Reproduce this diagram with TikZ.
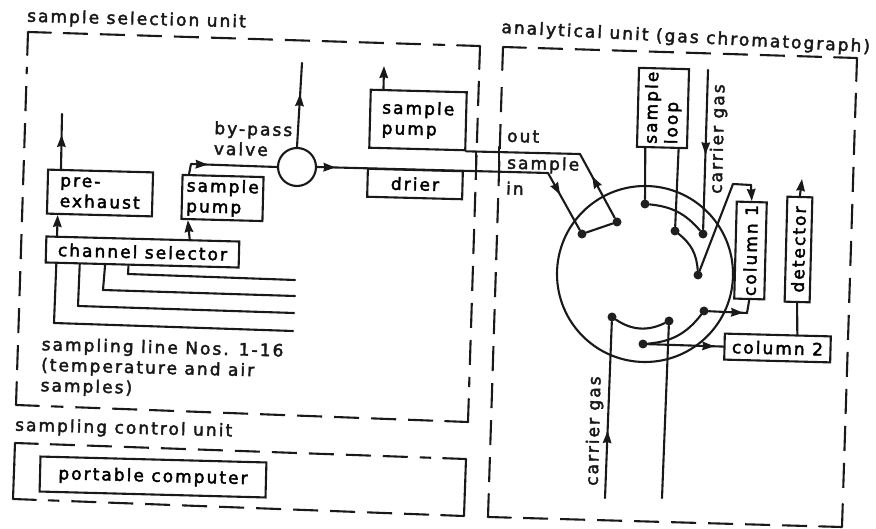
\documentclass[tikz,border=0pt]{standalone}
\usepackage{fontspec}
\setmainfont{DejaVu Sans}
\newfontfamily\labfont{DejaVu Sans}[FakeBold=2.4,LetterSpace=12]
\usetikzlibrary{arrows.meta,calc,decorations.markings}
\tikzset{
  ln/.style={line width=2.1pt,line cap=round,line join=round,black!90},
  boxn/.style={draw=black!90,line width=2.1pt,inner sep=0pt,rotate=-1.5,font=\lab,align=left},
  vbox/.style={draw=black!90,line width=2.1pt,inner sep=0pt,rotate=88.5,font=\lab,align=left},
  txt/.style={font=\lab,inner sep=0pt,anchor=west,rotate=-1.5,align=left,black!90},
  vtxt/.style={font=\lab,inner sep=0pt,anchor=west,rotate=88.5,black!90},
  port/.style={circle,fill=black!88,inner sep=0pt,minimum size=9pt},
  tip/.style={-{Stealth[length=12pt,width=8.5pt,inset=1pt]}},
  along/.style={postaction={decorate},decoration={markings,mark=at position #1 with {\arrow{Stealth[length=12pt,width=8.5pt,inset=1pt]}}}},
  dashside/.style={line width=2.1pt,line cap=butt,black!90,dash pattern=on 25pt off 12pt},
}
\newcommand\lab{\labfont\fontsize{17}{20.5}\selectfont}
\newcommand\unitframe[4]{%
  \draw[ln] ($(#1)!23pt!(#2)$) -- (#1) -- ($(#1)!23pt!(#4)$);
  \draw[ln] ($(#2)!23pt!(#3)$) -- (#2) -- ($(#2)!23pt!(#1)$);
  \draw[ln] ($(#3)!23pt!(#4)$) -- (#3) -- ($(#3)!23pt!(#2)$);
  \draw[ln] ($(#4)!23pt!(#1)$) -- (#4) -- ($(#4)!23pt!(#3)$);
  \draw[dashside] ($(#1)!35pt!(#2)$) -- ($(#2)!35pt!(#1)$);
  \draw[dashside] ($(#2)!35pt!(#3)$) -- ($(#3)!35pt!(#2)$);
  \draw[dashside] ($(#3)!35pt!(#4)$) -- ($(#4)!35pt!(#3)$);
  \draw[dashside] ($(#4)!35pt!(#1)$) -- ($(#1)!35pt!(#4)$);
}
\begin{document}
\begin{tikzpicture}[x=1pt,y=-1pt]
\useasboundingbox (0,0) rectangle (876,529);
\fill[white] (0,0) rectangle (876,529);
% unit frames
\coordinate (sa) at (28,32); \coordinate (sb) at (480,46); \coordinate (sc) at (468,422); \coordinate (sd) at (16,405);
\coordinate (ca) at (15,443); \coordinate (cb) at (466,459); \coordinate (cc) at (464,516); \coordinate (cd) at (13,499);
\coordinate (aa) at (503,47); \coordinate (ab) at (857,58); \coordinate (ac) at (842,527); \coordinate (ad) at (488,517);
\unitframe{sa}{sb}{sc}{sd}
\unitframe{ca}{cb}{cc}{cd}
\unitframe{aa}{ab}{ac}{ad}
% frame labels
\node[txt] (lsel) at (27,17) {sample selection unit};
\node[txt,rotate=0] (lana) at (501,33) {\rotatebox{-1.5}{analytical unit (gas chromatograph)}};
\node[txt] (lctl) at (15,426) {sampling control unit};
% boxes
\node[boxn,minimum width=105pt,minimum height=44pt] (prex) at (100,193) {pre-\\exhaust};
\node[boxn,minimum width=81pt,minimum height=44pt] (pump1) at (222.5,198) {sample\\pump};
\node[boxn,minimum width=193pt,minimum height=26pt] (sel) at (142.5,252) {channel selector};
\node[boxn,minimum width=96pt,minimum height=58pt] (pump2) at (418,120) {sample\\pump};
\node[boxn,minimum width=95pt,minimum height=28pt] (drier) at (415,184) {drier};
\node[draw=black!90,line width=2.1pt,circle,minimum size=38pt,inner sep=0pt] (valve) at (297,167) {};
\node[vbox,minimum width=79pt,minimum height=50pt] (loop) at (663,108) {sample\\loop};
\node[vbox,minimum width=97pt,minimum height=30pt] (col1) at (750.5,250.5) {column 1};
\node[vbox,minimum width=105pt,minimum height=25pt] (det) at (798.5,249.5) {detector};
\node[boxn,minimum width=106pt,minimum height=26pt] (col2) at (777.5,348) {column 2};
\node[boxn,minimum width=226pt,minimum height=35pt] (pc) at (153,477) {portable computer};
% free labels
\node[txt] (lbp) at (214,138) {by-pass\\valve};
\node[txt] (lout) at (507,136) {out};
\node[txt] (lsam) at (507,164) {sample};
\node[txt] (lin) at (506,188) {in};
\node[vtxt] (lcg1) at (717,194) {carrier gas};
\node[vtxt] (lcg2) at (593,486) {carrier gas};
\node[txt] (lnos) at (41,366) {sampling line Nos. 1-16\\(temperature and air\\samples)};
% switching valve
\node[draw=black!90,line width=2.1pt,circle,minimum size=176pt,inner sep=0pt] (disc) at (645,274) {};
\node[port] (p1) at (582,234) {};
\node[port] (p2) at (617,222) {};
\node[port] (p3) at (645,204) {};
\node[port] (p4) at (675,231) {};
\node[port] (p5) at (703,234) {};
\node[port] (p6) at (698,275) {};
\node[port] (p7) at (704,311) {};
\node[port] (p8) at (643,344) {};
\node[port] (p9) at (669,321) {};
\node[port] (p10) at (612,317) {};
\draw[ln] (p1) -- (p2);
\draw[ln] (p3) to[bend left=22] (p5);
\draw[ln] (p4) to[bend left=24] (p6);
\draw[ln] (p7) to[bend left=24] (p8);
\draw[ln] (p9) to[bend left=30] (p10);
% left connectors
\coordinate (exh1) at (62,114);
\coordinate (exh2) at (302,63);
\coordinate (exh3) at (384,66);
\draw[ln,along=0.62] ($(prex.north west)!0.13!(prex.north east)$) -- (exh1);
\draw[ln,tip] ($(sel.north west)!0.06!(sel.north east)$) -- ($(prex.south west)!0.11!(prex.south east)$);
\draw[ln,tip] ($(sel.north west)!0.74!(sel.north east)$) -- ($(pump1.south west)!0.09!(pump1.south east)$);
\coordinate (pj) at (191,164);
\draw[ln,along=0.28] ($(pump1.north west)!0.09!(pump1.north east)$) -- (pj) -- (valve.west);
\draw[ln,along=0.63] (valve.north) -- (exh2);
\draw[ln,tip] ($(pump2.north west)!0.14!(pump2.north east)$) -- (exh3);
% sampling lines
\coordinate (l1a) at (54,323); \coordinate (l1b) at (293,331);
\coordinate (l2a) at (78,306); \coordinate (l2b) at (294,313);
\coordinate (l3a) at (103,290); \coordinate (l3b) at (295,296);
\coordinate (l4a) at (128,274); \coordinate (l4b) at (295,280);
\draw[ln] ($(sel.south west)!0.06!(sel.south east)$) -- (l1a) -- (l1b);
\draw[ln] ($(sel.south west)!0.18!(sel.south east)$) -- (l2a) -- (l2b);
\draw[ln] ($(sel.south west)!0.31!(sel.south east)$) -- (l3a) -- (l3b);
\draw[ln] ($(sel.south west)!0.43!(sel.south east)$) -- (l4a) -- (l4b);
% sample in / out
\coordinate (outb) at (580,154);
\coordinate (inb) at (548,173);
\draw[ln] (pump2.south east) -- (outb);
\draw[ln,along=0.65] (p2) -- (outb);
\draw[ln,along=0.08] (valve.east) -- (inb);
\draw[ln,along=0.38] (inb) -- (p1);
\coordinate (t1a) at (476,152); \coordinate (t1b) at (476,173);
\coordinate (t2a) at (499,147); \coordinate (t2b) at (499,172);
\draw[ln] (t1a) -- (t1b);
\draw[ln] (t2a) -- (t2b);
% analytical connectors
\draw[ln] ($(loop.west)!0.64!(loop.north west)$) -- (p3);
\draw[ln] ($(loop.west)!0.64!(loop.south west)$) -- (p4);
\coordinate (cgt) at (708,70);
\draw[ln,along=0.53] (cgt) -- (p5);
\coordinate (c1a) at (733,184); \coordinate (c1b) at (751,185);
\draw[ln] (p6) -- (c1a) -- (c1b);
\draw[ln,tip] (c1b) -- (col1.east);
\coordinate (dett) at (802,179);
\draw[ln,tip] (det.east) -- (dett);
\coordinate (c1c) at (747,313);
\draw[ln] (col1.west) -- (c1c);
\draw[ln,along=0.9] (p7) -- (c1c);
\draw[ln] (det.west) -- ($(col2.north west)!0.68!(col2.north east)$);
\draw[ln,along=0.88] (p8) -- (col2.west);
\coordinate (cg2a) at (605,498); \coordinate (cg2b) at (662,498);
\draw[ln,along=0.38] (cg2a) -- (p10);
\draw[ln] (cg2b) -- (p9);
\end{tikzpicture}
\end{document}
